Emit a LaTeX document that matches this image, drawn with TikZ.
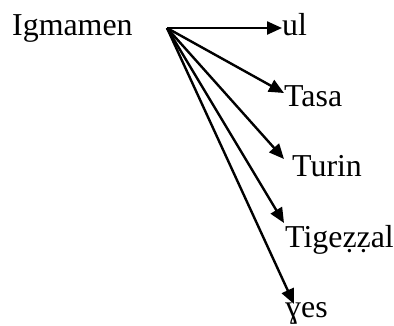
\documentclass[tikz,border=0pt]{standalone}
\usepackage{fontspec}
\setmainfont{Liberation Serif}
\usetikzlibrary{arrows.meta}
\tikzset{
  word/.style={anchor=base west,inner sep=0pt,font=\fontsize{32}{38}\selectfont},
  branch/.style={line width=2.4bp,-{Triangle[length=15bp,width=13bp]}}
}
\begin{document}
\begin{tikzpicture}[x=1bp,y=-1bp]
\useasboundingbox (0,0) rectangle (394,326);

% root word and its derived forms
\node[word] (root) at (12,35) {Igmamen};
\coordinate (src) at (167,28);

\node[word] (ul) at (282,35) {ul};
\node[word] (tasa) at (284,106) {Tasa};
\node[word] (turin) at (292,176) {Turin};
\node[word] (tigezzal) at (285,247) {Tigeẓẓal};
\node[word] (yes) at (285,317) {ɣes};

% arrow tips
\coordinate (tul) at (282,28);
\coordinate (ttasa) at (284,93);
\coordinate (tturin) at (284,159);
\coordinate (ttigezzal) at (284,223);
\coordinate (tyes) at (294,304);

\draw [branch] (src) -- (tul);
\draw [branch] (src) -- (ttasa);
\draw [branch] (src) -- (tturin);
\draw [branch] (src) -- (ttigezzal);
\draw [branch] (src) -- (tyes);

\end{tikzpicture}
\end{document}
